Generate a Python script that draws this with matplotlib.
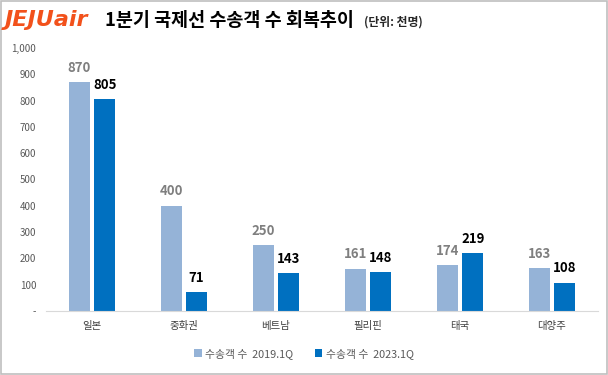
import matplotlib
matplotlib.use("Agg")
import matplotlib.pyplot as plt
import numpy as np
from matplotlib.patches import Rectangle

plt.rcParams['font.family'] = ['Noto Sans CJK KR', 'DejaVu Sans']

categories = ['일본', '중화권', '베트남', '필리핀', '태국', '대양주']
s2019 = [870, 400, 250, 161, 174, 163]
s2023 = [805, 71, 143, 148, 219, 108]
series_names = ['수송객 수  2019.1Q', '수송객 수  2023.1Q']
yticks = [0, 100, 200, 300, 400, 500, 600, 700, 800, 900, 1000]
ytick_labels = ['-', '100', '200', '300', '400', '500', '600', '700', '800', '900', '1,000']

c1 = '#95B3D7'
c2 = '#0070C0'

fig = plt.figure(figsize=(6.08, 3.75), dpi=100)
ax = fig.add_axes([0.0757, 0.1707, 0.9079, 0.7013])

x = np.arange(len(categories))
w = 0.235
gap = 0.02
b1 = ax.bar(x - w/2 - gap, s2019, w, color=c1, label=series_names[0])
b2 = ax.bar(x + w/2 + gap, s2023, w, color=c2, label=series_names[1])

for xi, v in zip(x, s2019):
    ax.text(xi - w/2 - gap, v + 28, f'{v}', ha='center', va='bottom', fontsize=9.5,
            fontweight='bold', color='#7f7f7f')
for xi, v in zip(x, s2023):
    ax.text(xi + w/2 + gap, v + 28, f'{v}', ha='center', va='bottom', fontsize=9.5,
            fontweight='bold', color='black')

ax.set_xlim(-0.5, len(categories) - 0.5)
ax.set_ylim(0, 1000)
ax.set_yticks(yticks)
ax.set_yticklabels(ytick_labels, fontsize=7, color='#595959')
ax.set_xticks(x)
ax.set_xticklabels(categories, fontsize=7.5, color='#404040')
ax.tick_params(axis='both', length=0, pad=7)
for s in ['top', 'right', 'left']:
    ax.spines[s].set_visible(False)
ax.spines['bottom'].set_color('#d9d9d9')

leg = fig.legend(handles=[b1, b2], loc='center', bbox_to_anchor=(0.5, 0.057), ncol=2,
                 frameon=False, fontsize=7.8, handlelength=0.7, handleheight=0.7,
                 columnspacing=2.0, handletextpad=0.3)
for t in leg.get_texts():
    t.set_color('#595959')

fig.text(0.008, 0.948, 'JEJUair', fontsize=16, fontweight='heavy', fontstyle='italic',
         color='#F2511B', va='center', ha='left', family='DejaVu Sans')
fig.text(0.172, 0.946, '1분기 국제선 수송객 수 회복추이', fontsize=13.3, fontweight='bold',
         color='black', va='center', ha='left')
fig.text(0.598, 0.940, '(단위: 천명)', fontsize=8.5, fontweight='bold',
         color='#262626', va='center', ha='left')

fig.patches.append(Rectangle((0.002, 0.003), 0.996, 0.994, transform=fig.transFigure,
                             fill=False, edgecolor='#bfbfbf', linewidth=1.2))

fig.savefig('out.png', dpi=100)
